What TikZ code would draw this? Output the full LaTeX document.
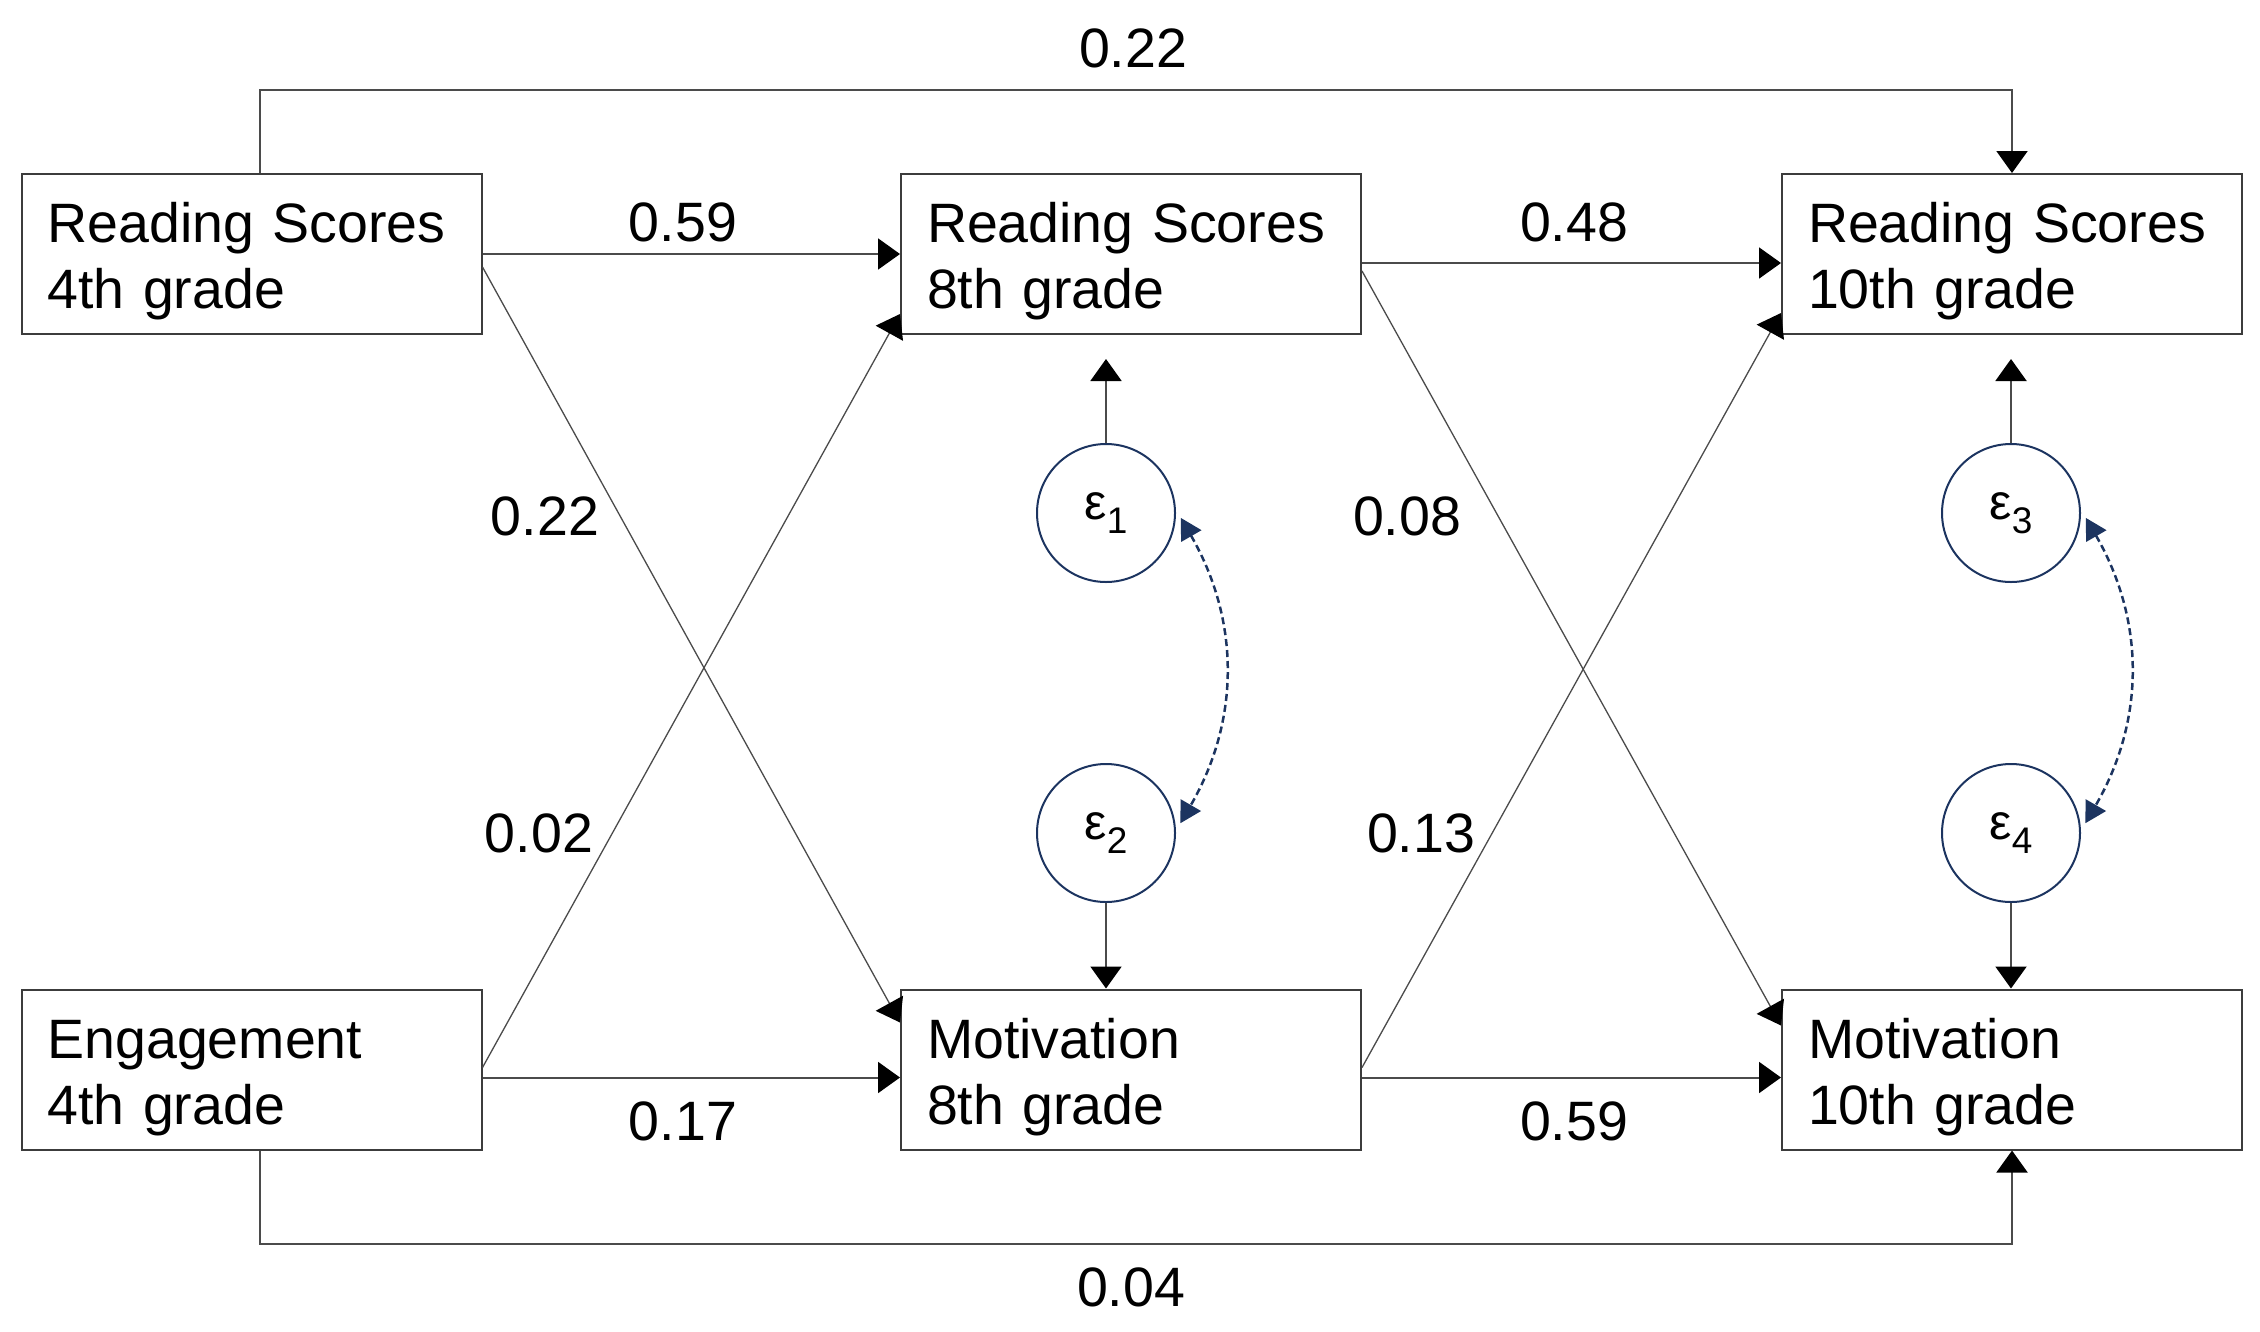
\documentclass[tikz,border=0pt]{standalone}
\usepackage{fontspec}
\setmainfont{Liberation Sans}
\usetikzlibrary{arrows.meta,calc}
\definecolor{boxgray}{RGB}{60,60,60}
\definecolor{linegray}{RGB}{75,75,75}
\definecolor{navy}{RGB}{28,52,96}
\newcommand\bxfont{\fontsize{55.5pt}{66pt}\selectfont}
\newcommand\epsfont{\fontsize{50pt}{50pt}\selectfont}
\newcommand\subfont{\fontsize{37pt}{37pt}\selectfont}
\newcommand\epsl[1]{{\epsfont ε\raisebox{-14pt}{\subfont #1}}}
\tikzset{
  box/.style={draw=boxgray, line width=2pt, rectangle, text width=408pt, minimum height=160pt,
    inner xsep=26pt, inner ysep=0pt, align=left, font=\bxfont,
    execute at begin node={\rule{0pt}{55pt}}},
  errc/.style={draw=navy, line width=2pt, circle, minimum size=138pt, inner sep=0pt},
  conn/.style={draw=linegray, line width=2pt, -{Triangle[length=22pt,width=31pt,black]}},
  diag/.style={draw=linegray, line width=1.3pt, -{Triangle[length=22pt,width=31pt,black]}},
  cov/.style={draw=navy, line width=2.5pt, dash pattern=on 7pt off 4pt,
    {Triangle[length=21pt,width=23pt]}-{Triangle[length=21pt,width=23pt]}},
  lbl/.style={font=\bxfont, inner sep=0pt}
}
\begin{document}
\begin{tikzpicture}[x=1pt,y=-1pt]
\useasboundingbox (0,0) rectangle (2260,1331);
% boxes
\node[box] (b1) at (251.5,254) {Reading Scores\\4th grade};
\node[box] (b2) at (1131,254) {Reading Scores\\8th grade};
\node[box] (b3) at (2012,254) {Reading Scores\\10th grade};
\node[box] (b4) at (251.5,1069.5) {Engagement\\4th grade};
\node[box] (b5) at (1131,1069.5) {Motivation\\8th grade};
\node[box] (b6) at (2012,1069.5) {Motivation\\10th grade};
% error terms
\node[errc] (e1) at (1106,513) {\epsl{1}};
\node[errc] (e2) at (1106,833) {\epsl{2}};
\node[errc] (e3) at (2011,513) {\epsl{3}};
\node[errc] (e4) at (2011,833) {\epsl{4}};
% long paths
\draw[conn] ([xshift=8pt]b1.north) -- ++(0,-83) -| (b3.north);
\draw[conn] ([xshift=8pt]b4.south) -- ++(0,93) -| (b6.south);
% horizontal paths
\draw[conn] (b1.east) -- (b2.west);
\draw[conn] ([yshift=-9pt]b2.east) -- ([yshift=-9pt]b3.west);
\draw[conn] ([yshift=-8pt]b4.east) -- ([yshift=-8pt]b5.west);
\draw[conn] ([yshift=-8pt]b5.east) -- ([yshift=-8pt]b6.west);
% cross paths
\draw[diag] ([yshift=-13pt]b1.east) -- ([yshift=47pt]b5.west);
\draw[diag] ([yshift=2pt]b4.east) -- ([yshift=-60pt]b2.west);
\draw[diag] ([yshift=-17pt]b2.east) -- ([yshift=44pt]b6.west);
\draw[diag] ([yshift=2pt]b5.east) -- ([yshift=-59pt]b3.west);
% error paths
\draw[conn] (e1.north) -- ++(0,-84);
\draw[conn] (e3.north) -- ++(0,-84);
\draw[conn] (e2.south) -- (e2.south |- b5.north);
\draw[conn] (e4.south) -- (e4.south |- b6.north);
% covariances
\draw[cov] ($(e1.-4)+(5,0)$) to[bend left=30] ($(e2.8)+(5,0)$);
\draw[cov] ($(e3.-4)+(5,0)$) to[bend left=30] ($(e4.8)+(5,0)$);
% labels
\node[lbl] (l1) at (1133,48) {0.22};
\node[lbl] (l2) at (683,222) {0.59};
\node[lbl] (l3) at (1574,222) {0.48};
\node[lbl] (l4) at (545,516) {0.22};
\node[lbl] (l5) at (1407,516) {0.08};
\node[lbl] (l6) at (539,833) {0.02};
\node[lbl] (l7) at (1421,833) {0.13};
\node[lbl] (l8) at (683,1121) {0.17};
\node[lbl] (l9) at (1574,1121) {0.59};
\node[lbl] (l10) at (1131,1287) {0.04};
\end{tikzpicture}
\end{document}
